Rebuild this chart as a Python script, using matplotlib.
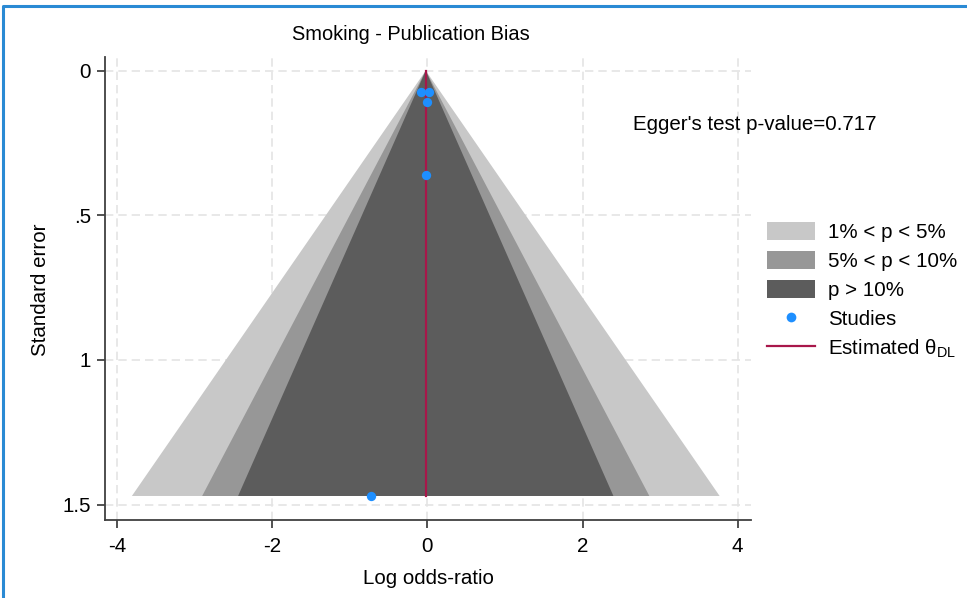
import numpy as np
import matplotlib.pyplot as plt
from matplotlib.patches import Patch
from matplotlib.lines import Line2D

plt.rcParams['font.family'] = ['Liberation Sans', 'DejaVu Sans']
plt.rcParams['mathtext.fontset'] = 'custom'
plt.rcParams['mathtext.rm'] = 'Liberation Sans'

# Study estimates (log odds-ratio) and their standard errors
log_or = [-0.085, 0.026, -0.008, -0.017, -0.726]
std_err = [0.075, 0.075, 0.110, 0.361, 1.470]
theta_dl = -0.02
egger_p = 0.717

# Significance contours: label, critical z, fill colour
contour_labels = ['1% < p < 5%', '5% < p < 10%', 'p > 10%']
contour_z = [2.576, 1.960, 1.645]
contour_colors = ['#c8c8c8', '#979797', '#5c5c5c']

x_ticks = [-4, -2, 0, 2, 4]
y_ticks = [0, 0.5, 1, 1.5]
y_ticklabels = ['0', '.5', '1', '1.5']

W, H = 967, 598
FS = 14.8
fig = plt.figure(figsize=(W / 100, H / 100), dpi=100)
ax = fig.add_axes([105 / W, 1 - 520 / H, (751 - 105) / W, (520 - 57) / H])

# funnel triangles, widest first
se_max = max(std_err)
for z, col in zip(contour_z, contour_colors):
    half = z * se_max
    ax.fill([theta_dl, theta_dl - half, theta_dl + half],
            [0, se_max, se_max], color=col, lw=0, zorder=2)

ax.plot([theta_dl, theta_dl], [0, se_max], color='#a8174a', lw=1.6, zorder=3)
ax.scatter(log_or, std_err, s=45, color='#1e8fff', lw=0, zorder=4)

ax.set_xlim(-4.153, 4.171)
ax.set_ylim(1.553, -0.047)
ax.set_xticks(x_ticks)
ax.set_xticklabels([str(t) for t in x_ticks])
ax.set_yticks(y_ticks)
ax.set_yticklabels(y_ticklabels)
ax.tick_params(labelsize=FS, length=6, width=1.2, color='#333333')
ax.tick_params(axis='x', pad=6)
ax.tick_params(axis='y', pad=4)

ax.grid(True, color='#e4e4e4', ls=(0, (5, 3)), lw=1.2, zorder=0)
ax.set_axisbelow(True)
for s in ['top', 'right']:
    ax.spines[s].set_visible(False)
for s in ['left', 'bottom']:
    ax.spines[s].set_color('#404040')
    ax.spines[s].set_linewidth(1.3)

fig.text(428 / W, 1 - 578 / H, 'Log odds-ratio', ha='center', va='center', fontsize=FS)
fig.text(40 / W, 1 - 290 / H, 'Standard error', rotation=90,
         ha='center', va='center', fontsize=FS)
fig.text(411 / W, 1 - 35 / H, 'Smoking - Publication Bias',
         ha='center', va='center', fontsize=14.4)
fig.text(633 / W, 1 - 125 / H, f"Egger's test p-value={egger_p}",
         ha='left', va='center', fontsize=FS)

handles = [Patch(facecolor=c, edgecolor='none') for c in contour_colors]
handles.append(Line2D([], [], ls='none', marker='o', ms=7,
                      color='#1e8fff', mec='none'))
handles.append(Line2D([], [], color='#a8174a', lw=1.6))
labels = contour_labels + ['Studies', 'Estimated θ$_{\\mathrm{DL}}$']
fig.legend(handles, labels, loc='upper left',
           bbox_to_anchor=(767 / W, 1 - 222 / H), frameon=False,
           fontsize=FS, borderpad=0, borderaxespad=0,
           handlelength=2.35, handleheight=1.0, handletextpad=0.6,
           labelspacing=0.42)

# blue frame (top and left edges visible in the crop)
fig.add_artist(Line2D([3 / W, 3 / W, 1], [0, 1 - 6 / H, 1 - 6 / H],
                      transform=fig.transFigure, color='#2a8ad4', lw=2.2))

fig.savefig('out.png', dpi=100)
